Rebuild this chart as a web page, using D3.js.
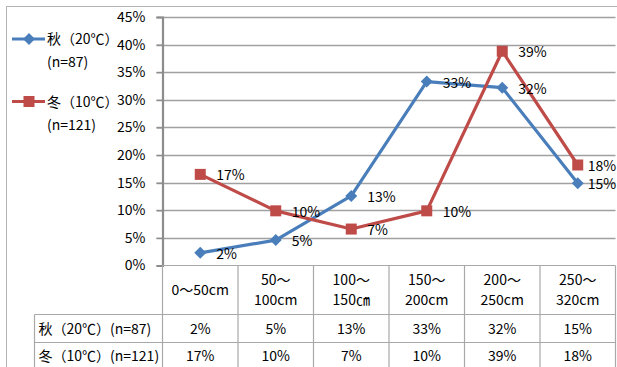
<!DOCTYPE html>
<html>
<head>
<meta charset="utf-8">
<script src="https://cdn.jsdelivr.net/npm/d3@7"></script>
<style>
  body { margin: 0; background: #fff; }
  text { font-family: "Noto Sans CJK JP", "Noto Sans", sans-serif; fill: #000; }
</style>
</head>
<body>
<svg id="chart" width="617" height="367"></svg>
<script>
// Depth classes (header lines of the data table)
const categories = [
  ["0～50cm"],
  ["50～", "100cm"],
  ["100～", "150㎝"],
  ["150～", "200cm"],
  ["200～", "250cm"],
  ["250～", "320cm"]
];
const seriesNames = ["秋（20℃）(n=87)", "冬（10℃）(n=121)"];
const autumnValues = [0.023, 0.046, 0.126, 0.333, 0.322, 0.149];
const winterValues = [0.165, 0.099, 0.066, 0.099, 0.388, 0.182];
const yTicks = [0, 0.05, 0.10, 0.15, 0.20, 0.25, 0.30, 0.35, 0.40, 0.45];

const colors = ["#4a7ebb", "#be4b48"];
const series = [
  { name: seriesNames[0], values: autumnValues, color: colors[0], shape: "diamond" },
  { name: seriesNames[1], values: winterValues, color: colors[1], shape: "square" }
];

const svg = d3.select("#chart");
const pct = d3.format(".0%");

const plot = { left: 162.5, right: 615.5, top: 17, bottom: 265.5 };
const tableTop = plot.bottom;
const rowBounds = [265.5, 314.5, 342.5, 372];
const tableLeft = 34.5;

const x = d3.scaleBand().domain(d3.range(categories.length)).range([plot.left, plot.right]);
const y = d3.scaleLinear().domain([0, 0.45]).range([plot.bottom, plot.top]);

// Outer chart frame
svg.append("rect")
  .attr("x", 6.5).attr("y", 6.5).attr("width", 620).attr("height", 380)
  .attr("fill", "none").attr("stroke", "#b4b4b4").attr("stroke-width", 1);

// Horizontal gridlines
svg.append("g").selectAll("line").data(yTicks.slice(1)).join("line")
  .attr("x1", plot.left - 6).attr("x2", plot.right)
  .attr("y1", d => Math.round(y(d)) + 0.5).attr("y2", d => Math.round(y(d)) + 0.5)
  .attr("stroke", "#a0a0a0").attr("stroke-width", 1.3);

// Y axis
const yAxis = svg.append("g")
  .attr("transform", `translate(${plot.left},0)`)
  .call(d3.axisLeft(y).tickValues(yTicks).tickFormat(pct).tickSize(6).tickPadding(11));
yAxis.select(".domain").attr("stroke", "#8c8c8c").attr("stroke-width", 2.2);
yAxis.selectAll(".tick line").attr("stroke", "#8c8c8c").attr("stroke-width", 1.3);
yAxis.selectAll(".tick text")
  .style("font-family", '"Noto Sans CJK JP", "Noto Sans", sans-serif')
  .attr("font-size", 14).attr("fill", "#000");

// Data table grid
const tg = svg.append("g").attr("stroke", "#a8a8a8").attr("stroke-width", 1.2);
tg.append("line").attr("x1", plot.left).attr("x2", plot.right).attr("y1", tableTop).attr("y2", tableTop);
rowBounds.slice(1, 3).forEach(r => {
  tg.append("line").attr("x1", tableLeft).attr("x2", plot.right).attr("y1", r).attr("y2", r);
});
const colEdges = d3.range(categories.length + 1).map(i => plot.left + i * x.step());
colEdges.forEach(cx => {
  tg.append("line").attr("x1", cx).attr("x2", cx).attr("y1", tableTop).attr("y2", 372);
});
tg.append("line").attr("x1", tableLeft).attr("x2", tableLeft).attr("y1", rowBounds[1]).attr("y2", 372);

// Header cells
categories.forEach((lines, i) => {
  const cx = x(i) + x.bandwidth() / 2;
  const cy = (rowBounds[0] + rowBounds[1]) / 2;
  const lh = 20;
  lines.forEach((ln, j) => {
    svg.append("text")
      .attr("x", cx).attr("y", cy + (j - (lines.length - 1) / 2) * lh)
      .attr("dy", "0.36em").attr("text-anchor", "middle")
      .attr("font-size", 14).text(ln);
  });
});

// Value rows
series.forEach((s, k) => {
  const cy = (rowBounds[k + 1] + rowBounds[k + 2]) / 2 + (k === 1 ? -1 : 0);
  svg.append("text").attr("x", tableLeft + 4).attr("y", cy).attr("dy", "0.36em")
    .attr("font-size", 14).text(s.name);
  s.values.forEach((v, i) => {
    svg.append("text")
      .attr("x", x(i) + x.bandwidth() / 2).attr("y", cy).attr("dy", "0.36em")
      .attr("text-anchor", "middle").attr("font-size", 14).text(pct(v));
  });
});

// Lines, markers and data labels
const line = d3.line().x((d, i) => x(i) + x.bandwidth() / 2).y(d => y(d));
function marker(g, shape, color) {
  if (shape === "diamond") {
    g.append("path").attr("d", "M0,-6L6,0L0,6L-6,0Z").attr("fill", color);
  } else {
    g.append("rect").attr("x", -5.5).attr("y", -5.5).attr("width", 11).attr("height", 11).attr("fill", color);
  }
}
series.forEach(s => {
  svg.append("path").datum(s.values).attr("d", line)
    .attr("fill", "none").attr("stroke", s.color).attr("stroke-width", 3.2)
    .attr("stroke-linejoin", "round");
});
series.forEach(s => {
  s.values.forEach((v, i) => {
    const g = svg.append("g")
      .attr("transform", `translate(${x(i) + x.bandwidth() / 2},${y(v)})`);
    marker(g, s.shape, s.color);
  });
});
const lastIndex = categories.length - 1;
series.forEach(s => {
  s.values.forEach((v, i) => {
    // labels in the last column sit closer to the marker so they stay inside the frame
    const offset = i === lastIndex ? 10 : 16;
    svg.append("text")
      .attr("x", x(i) + x.bandwidth() / 2 + offset).attr("y", y(v) + 1)
      .attr("dy", "0.36em").attr("font-size", 14).text(pct(v));
  });
});

// Legend
series.forEach((s, k) => {
  const ly = k === 0 ? 39 : 101.5;
  const parts = s.name.split("(");
  svg.append("line").attr("x1", 12).attr("x2", 45).attr("y1", ly).attr("y2", ly)
    .attr("stroke", s.color).attr("stroke-width", 3.2);
  const g = svg.append("g").attr("transform", `translate(29,${ly})`);
  marker(g, s.shape, s.color);
  svg.append("text").attr("x", 47).attr("y", ly).attr("dy", "0.36em")
    .attr("font-size", 14).text(parts[0]);
  svg.append("text").attr("x", 47).attr("y", ly + 23).attr("dy", "0.36em")
    .attr("font-size", 14).text("(" + parts[1]);
});
</script>
</body>
</html>
